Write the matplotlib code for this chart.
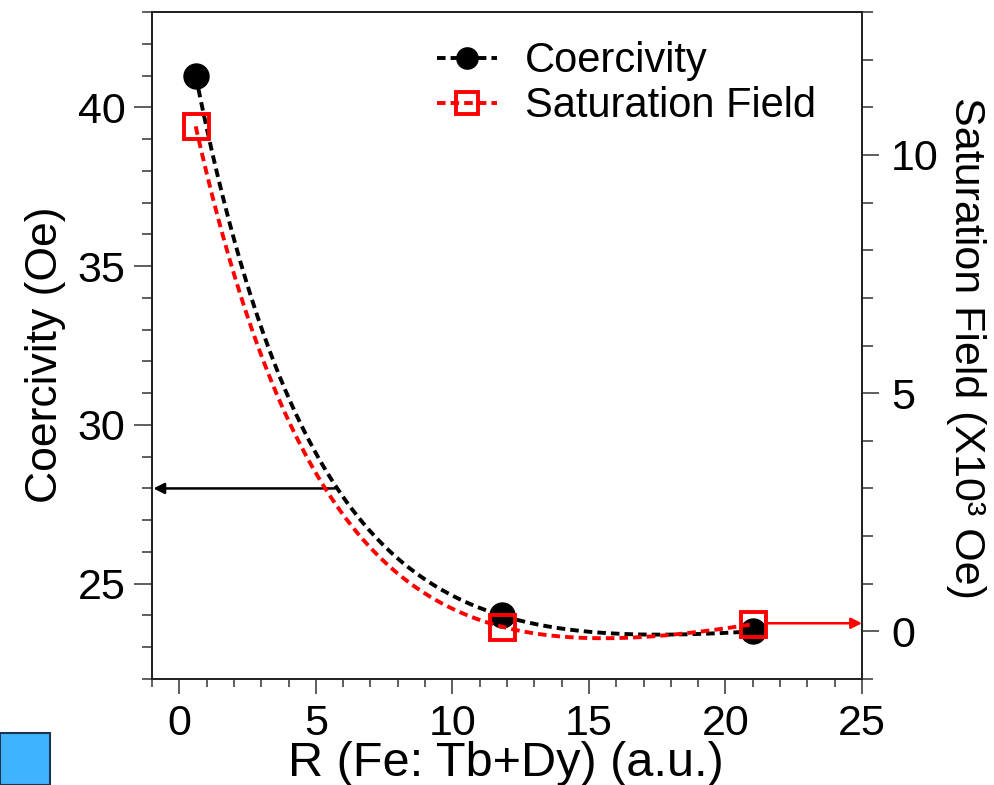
import numpy as np
import matplotlib
matplotlib.use("Agg")
import matplotlib.pyplot as plt
from matplotlib.ticker import MultipleLocator
from matplotlib.patches import Rectangle

# ---------------- data ----------------
ratio = [0.6, 11.8, 21.0]            # R (Fe: Tb+Dy) (a.u.)
coercivity = [41.0, 24.0, 23.5]      # Oe
sat_field = [10.6, 0.1, 0.15]        # x10^3 Oe
x_ticks = [0, 5, 10, 15, 20, 25]
left_ticks = [25, 30, 35, 40]
right_ticks = [0, 5, 10]
arrow_left = (5.7, 28.0)             # points to Coercivity axis
arrow_right = (21.5, 0.17)           # points to Saturation axis

plt.rcParams['font.family'] = ['Liberation Sans', 'DejaVu Sans']


def smooth_fit(x, y, tau, xs):
    """exp-decay + linear trend passing through the measured points"""
    x = np.asarray(x, float)
    y = np.asarray(y, float)
    M = np.column_stack([np.ones_like(x), np.exp(-x / tau), x])
    p = np.linalg.solve(M, y)
    return p[0] + p[1] * np.exp(-xs / tau) + p[2] * xs


xs = np.linspace(ratio[0], ratio[-1], 400)

W, H = 995, 785
fig = plt.figure(figsize=(W / 100, H / 100), dpi=100)
ax = fig.add_axes([152 / W, 1 - 679 / H, 710 / W, 667 / H])
ax2 = ax.twinx()

dash = (0, (2.2, 1.3))
l1, = ax.plot(xs, smooth_fit(ratio, coercivity, 4.5, xs), color='black',
              lw=2.8, linestyle=dash, zorder=2)
m1, = ax.plot(ratio, coercivity, linestyle='none', marker='o', ms=18,
              color='black', zorder=3)
l2, = ax2.plot(xs, smooth_fit(ratio, sat_field, 5.0, xs), color='red',
               lw=2.8, linestyle=dash, zorder=2)
m2, = ax2.plot(ratio, sat_field, linestyle='none', marker='s', ms=18,
               mfc='none', mec='red', mew=2.8, zorder=3)

# arrows
ax.annotate('', xy=(-0.95, arrow_left[1]), xytext=arrow_left,
            arrowprops=dict(arrowstyle='-|>', color='black', lw=1.8,
                            mutation_scale=16, shrinkA=0, shrinkB=0))
ax2.annotate('', xy=(25.0, arrow_right[1]), xytext=arrow_right,
             arrowprops=dict(arrowstyle='-|>', color='red', lw=1.8,
                             mutation_scale=16, shrinkA=0, shrinkB=0))

# axes limits and ticks
ax.set_xlim(-1, 25)
ax.set_ylim(22, 43)
ax2.set_ylim(-1, 13)
ax.set_xticks(x_ticks)
ax.xaxis.set_minor_locator(MultipleLocator(1))
ax.set_yticks(left_ticks)
ax.yaxis.set_minor_locator(MultipleLocator(1))
ax2.set_yticks(right_ticks)
ax2.yaxis.set_minor_locator(MultipleLocator(1))

tc = '#333333'
ax.tick_params(axis='x', which='major', length=11, width=1.1, color=tc,
               labelsize=31, pad=7, top=False)
ax.tick_params(axis='x', which='minor', length=6, width=1.1, color=tc, top=False)
ax.tick_params(axis='y', which='major', length=13, width=1.1, color=tc,
               labelsize=31, pad=6, right=False)
ax.tick_params(axis='y', which='minor', length=7, width=1.1, color=tc, right=False)
ax2.tick_params(axis='y', which='major', length=12, width=1.1, color=tc,
                labelsize=31, pad=9)
ax2.tick_params(axis='y', which='minor', length=8, width=1.1, color=tc)

for a in (ax, ax2):
    for s in a.spines.values():
        s.set_linewidth(1.3)
        s.set_color('#222222')

ax.set_xlabel('R (Fe: Tb+Dy) (a.u.)', fontsize=35, ha='center', va='center')
ax.xaxis.set_label_coords(0.4986, -0.1274)
ax.set_ylabel('Coercivity (Oe)', fontsize=32, ha='center', va='center')
ax.yaxis.set_label_coords(-0.1507, 0.486)
ax2.set_ylabel('Saturation Field (X10³ Oe)', fontsize=31, rotation=270,
               ha='center', va='center')
ax2.yaxis.set_label_coords(1.147, 0.496)

leg = ax2.legend([(l1, m1), (l2, m2)], ['Coercivity', 'Saturation Field'],
                 loc='upper left', bbox_to_anchor=(0.401, 0.956),
                 frameon=False, fontsize=30, handlelength=1.45,
                 handletextpad=0.67, labelspacing=0.12, borderaxespad=0,
                 borderpad=0, markerscale=0.85)

# small blue box in the lower-left corner of the picture
fig.add_artist(Rectangle((0, 0), 50 / W, 52 / H, transform=fig.transFigure,
                         facecolor='#3fb3ff', edgecolor='#1b3550', lw=1.5))

fig.savefig('out.png', dpi=100)
